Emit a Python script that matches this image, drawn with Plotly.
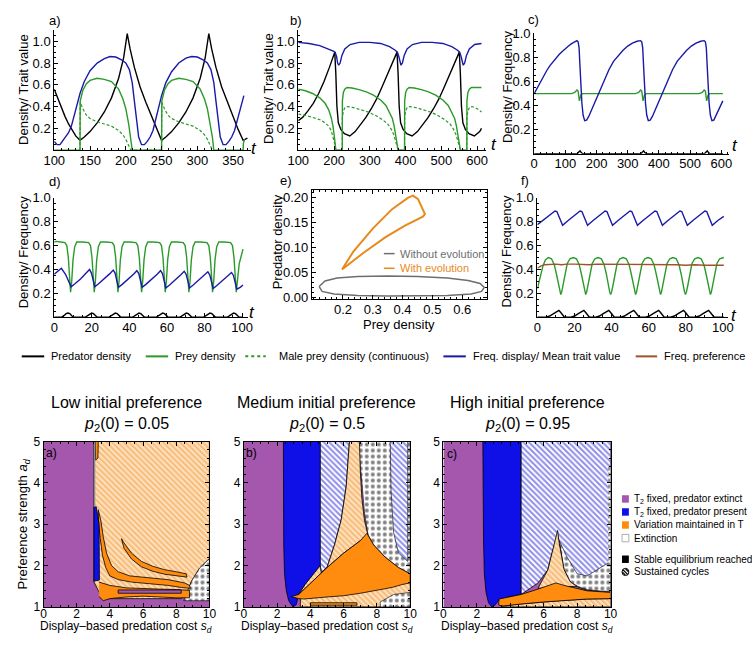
import plotly.graph_objects as go

W, H = 752, 655
FONT = "Liberation Sans, Arial, Helvetica, sans-serif"
BLACK = "#000000"; GREEN = "#2A9A2A"; BLUE = "#1A1AA8"; BROWN = "#A0522D"
ORANGE_E = "#E8891C"; GRAY_E = "#6E6E6E"
PURPLE = "#A457AD"; RBLUE = "#0F0FE8"; RORANGE = "#FF8C0F"; GRAYSTRIP = "#8C8C8C"
HATCH_O = dict(shape="\\", fgcolor="#EE9436", bgcolor="#FFE2BE", size=4, solidity=0.5)
HATCH_B = dict(shape="\\", fgcolor="#1C1CD8", bgcolor="#FFFFFF", size=4, solidity=0.5)
SPECK = dict(shape=".", fgcolor="#000000", bgcolor="#FFFFFF", size=6, solidity=0.35)

# ---------------- panel a ----------------
a_black_t = [100,105,110,115,120,125,130,136,142,150,160,170,180,190,197,202,206,212,220,228,236,243,250,256,264,274,284,294,304,311,316,320,326,334,342,350,357,364,370]
a_black_v = [0.56,0.47,0.39,0.31,0.24,0.18,0.13,0.09,0.12,0.17,0.25,0.35,0.48,0.66,0.85,1.07,0.93,0.76,0.58,0.44,0.31,0.19,0.09,0.12,0.17,0.25,0.35,0.48,0.66,0.85,1.07,0.93,0.76,0.58,0.44,0.31,0.19,0.09,0.11]
a_blue_t = [100,104,108,114,120,124,130,136,142,150,160,170,178,186,194,200,205,209,212,215,218,222,226,230,234,238,244,250,256,264,274,284,292,300,308,314,319,323,326,329,332,336,340,344,348,352,358,365]
a_blue_v = [0.08,0.05,0.05,0.1,0.16,0.22,0.37,0.52,0.63,0.73,0.8,0.84,0.86,0.855,0.83,0.8,0.74,0.62,0.45,0.28,0.12,0.05,0.05,0.08,0.12,0.18,0.33,0.5,0.62,0.72,0.8,0.845,0.86,0.855,0.83,0.8,0.74,0.62,0.45,0.28,0.12,0.05,0.05,0.08,0.12,0.18,0.33,0.5]
a_green_t = [100,136,136.3,140,145,150,160,170,180,190,196,200,204,207,209,250,250.3,254,259,264,274,284,294,304,310,314,318,321,323,364,364.3,366]
a_green_v = [0,0,0.45,0.55,0.61,0.64,0.66,0.65,0.63,0.56,0.47,0.38,0.24,0.12,0,0,0.45,0.55,0.61,0.64,0.66,0.65,0.63,0.56,0.47,0.38,0.24,0.12,0,0,0.06,0.1]
a_male_t = [136,136.3,140,145,150,160,170,180,190,196,200,204,207,250,250.3,254,259,264,274,284,294,304,310,314,318,321]
a_male_v = [0,0.44,0.38,0.32,0.29,0.26,0.24,0.22,0.18,0.14,0.1,0.05,0,0,0.44,0.38,0.32,0.29,0.26,0.24,0.22,0.18,0.14,0.1,0.05,0]

# ---------------- panel b ----------------
b_black_t = [100,112,127,142,157,172,187,202,205,208,212,219,229,244,259,274,289,304,319,334,349,364,376,379,382,386,393,403,418,433,448,463,478,493,508,523,538,550,553,556,560,567,577,592,607,612]
b_black_v = [0.27,0.3,0.36,0.43,0.52,0.63,0.76,0.9,0.7,0.4,0.25,0.19,0.15,0.13,0.17,0.23,0.3,0.38,0.47,0.58,0.7,0.81,0.9,0.7,0.4,0.25,0.19,0.15,0.13,0.17,0.23,0.3,0.38,0.47,0.58,0.7,0.81,0.9,0.7,0.4,0.25,0.19,0.15,0.13,0.17,0.2]
b_green_t = [100,120,140,160,175,185,192,197,201,204,205,
             223,223.3,226,230,236,250,270,290,310,330,345,355,363,368,372,375,378,379,
             397,397.3,400,404,410,424,444,464,484,504,519,529,537,542,546,549,552,553,
             571,571.3,574,578,584,600,612]
b_green_v = [0.56,0.545,0.52,0.48,0.43,0.37,0.3,0.22,0.12,0.04,0,
             0,0.45,0.53,0.56,0.575,0.57,0.555,0.535,0.505,0.46,0.41,0.35,0.29,0.22,0.14,0.07,0.02,0,
             0,0.45,0.53,0.56,0.575,0.57,0.555,0.535,0.505,0.46,0.41,0.35,0.29,0.22,0.14,0.07,0.02,0,
             0,0.45,0.53,0.56,0.575,0.575,0.575]
b_male_t = [100,120,140,160,175,185,192,197,201,204,205,
            223,223.3,226,231,238,255,275,295,315,335,350,360,367,372,375,378,379,
            397,397.3,400,405,412,429,449,469,489,509,524,534,541,546,549,552,553,
            571,571.3,574,579,586,600,612]
b_male_v = [0.33,0.32,0.3,0.28,0.25,0.22,0.18,0.13,0.07,0.02,0,
            0,0.3,0.36,0.395,0.4,0.39,0.37,0.35,0.32,0.28,0.24,0.19,0.14,0.09,0.05,0.02,0,
            0,0.3,0.36,0.395,0.4,0.39,0.37,0.35,0.32,0.28,0.24,0.19,0.14,0.09,0.05,0.02,0,
            0,0.3,0.36,0.395,0.4,0.38,0.35]
b_blue_t = [100,130,160,185,198,203,207,210,213,217,222,230,245,270,300,330,355,370,377,381,384,387,391,396,404,419,444,474,504,529,544,551,555,558,561,565,570,578,593,612]
b_blue_v = [0.99,0.98,0.96,0.93,0.91,0.9,0.86,0.8,0.78,0.8,0.87,0.93,0.97,0.99,0.99,0.98,0.95,0.92,0.9,0.86,0.8,0.78,0.8,0.87,0.93,0.97,0.99,0.99,0.98,0.95,0.92,0.9,0.86,0.8,0.78,0.8,0.87,0.93,0.97,0.98]

# ---------------- panel c ----------------
c_blue_t = [0,10,20,30,40,50,60,70,80,90,100,110,120,130,137,141,144,147,150,153,157,162,168,175,185,195,205,215,225,240,255,270,285,300,315,330,341,345,348,351,354,357,361,366,372,379,389,399,409,419,429,444,459,474,489,504,519,534,545,549,552,555,558,561,565,570,576,583,593,605]
c_blue_v = [0.5,0.55,0.6,0.645,0.69,0.73,0.765,0.795,0.825,0.85,0.875,0.895,0.915,0.93,0.94,0.93,0.88,0.72,0.55,0.42,0.32,0.275,0.28,0.31,0.37,0.43,0.5,0.56,0.62,0.7,0.77,0.82,0.86,0.895,0.92,0.935,0.94,0.93,0.88,0.72,0.55,0.42,0.32,0.275,0.28,0.31,0.37,0.43,0.5,0.56,0.62,0.7,0.77,0.82,0.86,0.895,0.92,0.935,0.94,0.93,0.88,0.72,0.55,0.42,0.32,0.275,0.28,0.32,0.38,0.44]
c_green_t = [0,120,130,137,141,143,145,147,150,155,325,335,341,345,347,349,351,354,359,529,539,545,549,551,553,555,558,563,605]
c_green_v = [0.5,0.5,0.51,0.53,0.52,0.47,0.44,0.46,0.49,0.5,0.5,0.51,0.53,0.52,0.47,0.44,0.46,0.49,0.5,0.5,0.51,0.53,0.52,0.47,0.44,0.46,0.49,0.5,0.5]
c_black_t = [0,138,143,147,151,156,342,347,351,355,360,546,551,555,559,564,605]
c_black_v = [0,0,0.015,0.025,0.01,0,0,0.015,0.025,0.01,0,0,0.015,0.025,0.01,0,0]

# ---------------- panel d ----------------
d_green_t = [0,1,3.5,5.7,6.7,7.5,8.2,8.7,9.3,10,10.9,12,
             15,18.3,19.3,20.1,20.8,21.3,21.9,22.6,23.5,24.6,
             27.6,30.9,31.9,32.7,33.4,33.9,34.5,35.2,36.1,37.2,
             40.2,43.5,44.5,45.3,46,46.5,47.1,47.8,48.7,49.8,
             52.8,56.1,57.1,57.9,58.6,59.1,59.7,60.4,61.3,62.4,
             65.4,68.7,69.7,70.5,71.2,71.7,72.3,73,73.9,75,
             78,81.3,82.3,83.1,83.8,84.3,84.9,85.6,86.5,87.6,
             90.6,93.9,94.9,95.7,96.4,96.9,97.5,98.5,100.5]
d_green_v = [0.63,0.635,0.63,0.625,0.6,0.5,0.33,0.21,0.3,0.48,0.59,0.63,
             0.63,0.625,0.6,0.5,0.33,0.21,0.3,0.48,0.59,0.63,
             0.63,0.625,0.6,0.5,0.33,0.21,0.3,0.48,0.59,0.63,
             0.63,0.625,0.6,0.5,0.33,0.21,0.3,0.48,0.59,0.63,
             0.63,0.625,0.6,0.5,0.33,0.21,0.3,0.48,0.59,0.63,
             0.63,0.625,0.6,0.5,0.33,0.21,0.3,0.48,0.59,0.63,
             0.63,0.625,0.6,0.5,0.33,0.21,0.3,0.48,0.59,0.63,
             0.63,0.625,0.6,0.5,0.33,0.21,0.3,0.45,0.57]
d_blue_t = [0,2,3.8,6,7.8,9,11,14,17,18.8,19.8,20.8,21.6,23.6,26.6,29.6,31.4,32.4,33.4,34.2,36.2,39.2,42.2,44,45,46,46.8,48.8,51.8,54.8,56.6,57.6,58.6,59.4,61.4,64.4,67.4,69.2,70.2,71.2,72,74,77,80,81.8,82.8,83.8,84.6,86.6,89.6,92.6,94.4,95.4,96.4,97.2,99,100.5]
d_blue_v = [0.36,0.39,0.41,0.36,0.3,0.255,0.28,0.32,0.37,0.40,0.37,0.3,0.255,0.28,0.32,0.365,0.395,0.37,0.3,0.25,0.275,0.315,0.36,0.39,0.365,0.3,0.25,0.275,0.315,0.36,0.39,0.365,0.3,0.245,0.27,0.31,0.355,0.385,0.36,0.3,0.245,0.27,0.31,0.35,0.38,0.355,0.3,0.24,0.265,0.305,0.345,0.375,0.35,0.29,0.235,0.25,0.27]
d_black_t = [0,3.8,5.3,6.3,7.3,8.3,9.3,10.3,16.4,17.9,18.9,19.9,20.9,21.9,22.9,29,30.5,31.5,32.5,33.5,34.5,35.5,41.6,43.1,44.1,45.1,46.1,47.1,48.1,54.2,55.7,56.7,57.7,58.7,59.7,60.7,66.8,68.3,69.3,70.3,71.3,72.3,73.3,79.4,80.9,81.9,82.9,83.9,84.9,85.9,92,93.5,94.5,95.5,96.5,97.5,98.5,100.5]
d_black_v = [0,0,0.015,0.03,0.035,0.03,0.012,0,0,0.015,0.03,0.035,0.03,0.012,0,0,0.015,0.03,0.035,0.03,0.012,0,0,0.015,0.03,0.035,0.03,0.012,0,0,0.015,0.03,0.035,0.03,0.012,0,0,0.015,0.03,0.035,0.03,0.012,0,0,0.015,0.03,0.035,0.03,0.012,0,0,0.015,0.03,0.035,0.03,0.012,0,0]

# ---------------- panel e ----------------
e_noevo_x = [0.12,0.14,0.18,0.25,0.35,0.45,0.55,0.62,0.66,0.674,0.665,0.63,0.55,0.45,0.35,0.25,0.17,0.13,0.12]
e_noevo_y = [0.022,0.033,0.039,0.042,0.043,0.042,0.039,0.034,0.028,0.02,0.012,0.007,0.004,0.003,0.003,0.004,0.007,0.012,0.022]
e_evo_x = [0.197,0.235,0.3,0.365,0.419,0.435,0.452,0.463,0.475,0.468,0.408,0.343,0.267,0.197]
e_evo_y = [0.056,0.092,0.138,0.177,0.2,0.204,0.197,0.184,0.167,0.162,0.144,0.121,0.0885,0.056]

# ---------------- panel f ----------------
f_green_t = [0,1,2,3,4.3,5.9,
             7.6,9.1,10.3,11.3,12.1,12.6,13.1,13.9,14.9,16.1,17.6,19.3,
             21.05,22.55,23.75,24.75,25.55,26.05,26.55,27.35,28.35,29.55,31.05,32.75,
             34.5,36,37.2,38.2,39,39.5,40,40.8,41.8,43,44.5,46.2,
             47.95,49.45,50.65,51.65,52.45,52.95,53.45,54.25,55.25,56.45,57.95,59.65,
             61.4,62.9,64.1,65.1,65.9,66.4,66.9,67.7,68.7,69.9,71.4,73.1,
             74.85,76.35,77.55,78.55,79.35,79.85,80.35,81.15,82.15,83.35,84.85,86.55,
             88.3,89.8,91,92,92.8,93.3,93.8,94.6,95.6,96.8,98.3,100.5]
f_green_v = [0.24,0.3,0.37,0.43,0.48,0.5,
             0.49,0.44,0.36,0.27,0.21,0.19,0.21,0.27,0.37,0.45,0.49,0.5,
             0.49,0.44,0.36,0.27,0.21,0.19,0.21,0.27,0.37,0.45,0.49,0.5,
             0.49,0.44,0.36,0.27,0.21,0.19,0.21,0.27,0.37,0.45,0.49,0.5,
             0.49,0.44,0.36,0.27,0.21,0.19,0.21,0.27,0.37,0.45,0.49,0.5,
             0.49,0.44,0.36,0.27,0.21,0.19,0.21,0.27,0.37,0.45,0.49,0.5,
             0.49,0.44,0.36,0.27,0.21,0.19,0.21,0.27,0.37,0.45,0.49,0.5,
             0.49,0.44,0.36,0.27,0.21,0.19,0.21,0.27,0.37,0.45,0.49,0.5]
f_blue_t = [0,3,6,9.5,10.5,11.8,13,13.6,16.6,19.6,23,24,25.3,26.5,27.05,30.05,33.05,36.5,37.5,38.8,40,40.5,43.5,46.5,49.9,50.9,52.2,53.4,53.95,56.95,59.95,63.4,64.4,65.7,66.9,67.4,70.4,73.4,76.85,77.85,79.15,80.35,80.85,83.85,86.85,90.3,91.3,92.6,93.8,94.3,97.3,100.5]
f_blue_v = [0.775,0.81,0.85,0.89,0.885,0.84,0.79,0.77,0.81,0.85,0.89,0.885,0.84,0.79,0.77,0.81,0.85,0.89,0.885,0.84,0.79,0.77,0.81,0.85,0.89,0.885,0.84,0.79,0.77,0.81,0.85,0.89,0.885,0.84,0.79,0.77,0.81,0.85,0.89,0.885,0.84,0.79,0.77,0.81,0.85,0.89,0.885,0.84,0.79,0.77,0.81,0.845]
f_black_t = [0,4.6,6.6,8.6,10.6,11.6,12.6,13.6,14.6,18.05,20.05,22.05,24.05,25.05,26.05,27.05,28.05,31.5,33.5,35.5,37.5,38.5,39.5,40.5,41.5,44.95,46.95,48.95,50.95,51.95,52.95,53.95,54.95,58.4,60.4,62.4,64.4,65.4,66.4,67.4,68.4,71.85,73.85,75.85,77.85,78.85,79.85,80.85,81.85,85.3,87.3,89.3,91.3,92.3,93.3,94.3,95.3,100.5]
f_black_v = [0,0,0.01,0.03,0.05,0.058,0.04,0.015,0,0,0.01,0.03,0.05,0.058,0.04,0.015,0,0,0.01,0.03,0.05,0.058,0.04,0.015,0,0,0.01,0.03,0.05,0.058,0.04,0.015,0,0,0.01,0.03,0.05,0.058,0.04,0.015,0,0,0.01,0.03,0.05,0.058,0.04,0.015,0,0,0.01,0.03,0.05,0.058,0.04,0.015,0,0]
f_pref_t = [0,2,4,7,10,13,16,20,24,28,32,36,40,45,50,55,60,65,70,75,80,85,90,95,100.5]
f_pref_v = [0.41,0.43,0.44,0.445,0.445,0.44,0.445,0.445,0.44,0.44,0.445,0.445,0.44,0.44,0.44,0.44,0.44,0.44,0.44,0.44,0.435,0.44,0.435,0.435,0.435]

# ---------------- region maps (s_d, a_d) ----------------
full_x = [0, 10, 10, 0, 0]
full_y = [1, 1, 5, 5, 1]
# low initial preference
A_hatch_x = [3.04,10,10,9.41,8.92,8.6,8.3,3.6,3.3,3.04,3.04]
A_hatch_y = [5,5,2.17,1.94,1.62,1.3,1.2,1.2,1.4,1.6,5]
A_speck_x = [10,9.41,8.92,8.6,8.45,10,10]
A_speck_y = [2.17,1.94,1.62,1.3,1.15,1.15,2.17]
A_or1_x = [3.3,3.45,3.6,3.8,4.1,4.5,5.2,6.5,7.5,8.5,8.8,8.85,8.3,7.5,6.5,5.3,4.5,4.0,3.75,3.55,3.42,3.32,3.3]
A_or1_y = [3.35,3.1,2.7,2.3,2.0,1.85,1.75,1.7,1.66,1.58,1.52,1.45,1.47,1.52,1.56,1.6,1.66,1.75,1.95,2.25,2.65,3.0,3.35]
A_or2_x = [3.35,4.0,5.0,6.0,7.0,8.0,8.8,8.8,8.0,7.0,6.0,5.0,4.0,3.6,3.35]
A_or2_y = [1.6,1.52,1.46,1.44,1.43,1.42,1.4,1.22,1.22,1.24,1.26,1.24,1.2,1.15,1.25]
A_pbar_x = [4.5,8.3,8.3,4.5,4.5]
A_pbar_y = [1.41,1.41,1.33,1.33,1.41]
A_or3_x = [4.7,4.85,5.3,5.9,6.6,7.3,8.0,8.6,8.65,8.0,7.3,6.6,5.9,5.3,4.85,4.7]
A_or3_y = [2.65,2.55,2.3,2.1,1.98,1.9,1.85,1.8,1.72,1.75,1.79,1.86,1.97,2.16,2.42,2.65]
A_or4_x = [3.12,3.3,3.28,3.14,3.12]
A_or4_y = [5,5,4.6,4.55,5]
A_blue_x = [3.04,3.18,3.35,3.37,3.04,3.04]
A_blue_y = [3.42,3.42,3.0,1.65,1.62,3.42]
A_gray_x = [3.04,3.12,3.12,3.04,3.04]
A_gray_y = [5,5,3.42,3.42,5]
# medium initial preference
B_speck_x = [6.9,10,10,9.3,8.5,7.8,7.45,7.25,7.1,6.95,6.9]
B_speck_y = [5,5,1.8,1.95,2.2,2.5,2.75,3.3,4.0,4.6,5]
B_bh2_x = [8.8,9.85,9.85,9.3,9.0,8.85,8.8]
B_bh2_y = [5,5,2.1,2.3,2.8,3.8,5]
B_blue_x = [2.38,4.6,4.6,4.2,3.7,3.3,3.15,2.95,2.7,2.55,2.45,2.4,2.38]
B_blue_y = [5,5,2.0,1.8,1.55,1.3,1.05,1.0,1.15,1.4,1.8,2.5,5]
B_bh_x = [4.6,6.35,6.15,5.85,5.45,5.0,4.65,4.6,4.6]
B_bh_y = [5,5,3.9,3.1,2.5,1.95,1.82,2.0,5]
B_tan_x = [6.35,6.95,7.0,7.1,7.25,7.45,7.0,6.0,5.0,4.2,3.6,3.3,3.7,4.2,4.6,4.65,5.0,5.45,5.85,6.15,6.35]
B_tan_y = [5,5,4.3,3.6,3.1,2.75,2.6,2.3,1.95,1.65,1.42,1.3,1.55,1.8,2.0,1.82,1.95,2.5,3.1,3.9,5]
B_tanlow_x = [3.4,10,10,3.4,3.4]
B_tanlow_y = [1.25,1.6,1.0,1.0,1.25]
B_or_x = [7.4,7.8,8.5,9.3,10,10,9.5,9.0,8.5,8.0,7.5,7.0,6.5,6.0,5.0,4.0,3.6,3.3,2.85,3.3,4.2,5.0,6.0,7.0,7.4]
B_or_y = [2.78,2.5,2.2,1.95,1.8,1.58,1.54,1.48,1.44,1.4,1.36,1.33,1.3,1.27,1.24,1.2,1.19,1.2,1.25,1.3,1.65,1.95,2.3,2.6,2.78]
B_orlow_x = [4.0,6.8,6.8,4.0,4.0]
B_orlow_y = [1.1,1.1,1.04,1.04,1.1]
B_specklow_x = [8.2,10,10,9.0,8.2,8.2]
B_specklow_y = [1.0,1.0,1.35,1.3,1.12,1.0]
# high initial preference
C_blue_x = [2.36,4.65,4.65,4.0,3.35,3.1,2.9,2.7,2.55,2.45,2.4,2.36]
C_blue_y = [5,5,1.3,1.25,1.18,1.05,1.0,1.1,1.35,1.8,2.6,5]
C_bh_x = [4.65,10,10,9.5,8.6,7.6,7.22,6.93,6.83,6.54,6.25,5.66,4.65,4.65]
C_bh_y = [5,5,1.38,1.38,1.4,1.55,1.9,2.53,2.75,2.37,1.9,1.58,1.3,5]
C_speck_x = [6.93,7.4,8.0,8.6,10,10,9.5,9.0,8.6,8.0,7.6,7.22,6.93]
C_speck_y = [2.6,2.2,1.8,1.75,2.1,1.38,1.38,1.4,1.42,1.5,1.6,1.9,2.6]
C_speck2_x = [9.86,10,10,9.86,9.86]
C_speck2_y = [4.4,4.4,2.0,2.0,4.4]
C_tan_x = [6.83,6.93,7.22,7.6,8.0,5.66,6.25,6.54,6.83]
C_tan_y = [2.85,2.53,1.9,1.6,1.5,1.45,1.9,2.37,2.85]
C_tanlow_x = [3.5,10,10,8.58,7.0,6.0,4.65,3.5,3.5]
C_tanlow_y = [1.0,1.0,1.2,1.19,1.15,1.12,1.07,1.02,1.0]
C_or_x = [3.33,4.65,5.66,6.73,7.22,8.58,10,10,8.58,7.0,6.0,4.65,3.5,3.3,3.33]
C_or_y = [1.19,1.3,1.43,1.58,1.52,1.39,1.35,1.2,1.19,1.15,1.12,1.07,1.02,1.05,1.19]

panel_titles = ["Low initial preference", "Medium initial preference", "High initial preference"]
panel_p0 = ["0.05", "0.5", "0.95"]
region_legend = ["T<sub>2</sub> fixed, predator extinct", "T<sub>2</sub> fixed, predator present",
                 "Variation maintained in T", "Extinction", "Stable equilibrium reached", "Sustained cycles"]
line_legend = ["Predator density", "Prey density", "Male prey density (continuous)",
               "Freq. display/ Mean trait value", "Freq. preference"]

fig = go.Figure()


def names(i):
    s = "" if i == 1 else str(i)
    return "x" + s, "y" + s, "xaxis" + s, "yaxis" + s


def curve(i, x, y, color, width=1.4, dash=None):
    xr, yr, _, _ = names(i)
    fig.add_trace(go.Scatter(x=x, y=y, mode="lines", xaxis=xr, yaxis=yr, hoverinfo="skip",
                             line=dict(color=color, width=width, dash=dash)))


def region(i, x, y, color=None, pattern=None, lw=0.8, lcolor="black"):
    xr, yr, _, _ = names(i)
    kw = dict(x=x, y=y, mode="lines", fill="toself", xaxis=xr, yaxis=yr, hoverinfo="skip",
              line=dict(color=lcolor, width=lw))
    if pattern is not None:
        kw["fillcolor"] = pattern["bgcolor"]
        kw["fillpattern"] = pattern
    else:
        kw["fillcolor"] = color
    fig.add_trace(go.Scatter(**kw))


# top row curves
curve(1, a_black_t, a_black_v, BLACK)
curve(1, a_blue_t, a_blue_v, BLUE)
curve(1, a_male_t, a_male_v, GREEN, 1.2, "3px,2px")
curve(1, a_green_t, a_green_v, GREEN)

curve(2, b_black_t, b_black_v, BLACK)
curve(2, b_blue_t, b_blue_v, BLUE)
curve(2, b_male_t, b_male_v, GREEN, 1.2, "3px,2px")
curve(2, b_green_t, b_green_v, GREEN)

curve(3, c_black_t, c_black_v, BLACK)
curve(3, c_green_t, c_green_v, GREEN)
curve(3, c_blue_t, c_blue_v, BLUE)

curve(4, d_black_t, d_black_v, BLACK)
curve(4, d_green_t, d_green_v, GREEN)
curve(4, d_blue_t, d_blue_v, BLUE)

curve(5, e_noevo_x, e_noevo_y, GRAY_E, 1.5)
curve(5, e_evo_x, e_evo_y, ORANGE_E, 2)

curve(6, f_black_t, f_black_v, BLACK)
curve(6, f_blue_t, f_blue_v, BLUE)
curve(6, f_green_t, f_green_v, GREEN)
curve(6, f_pref_t, f_pref_v, BROWN)

# region maps
for i in (7, 8, 9):
    region(i, full_x, full_y, PURPLE, lw=0, lcolor="rgba(0,0,0,0)")

region(7, A_hatch_x, A_hatch_y, pattern=HATCH_O)
region(7, A_speck_x, A_speck_y, pattern=SPECK, lw=0.6)
region(7, A_or2_x, A_or2_y, RORANGE)
region(7, A_pbar_x, A_pbar_y, PURPLE)
region(7, A_or1_x, A_or1_y, RORANGE)
region(7, A_or3_x, A_or3_y, RORANGE)
region(7, A_or4_x, A_or4_y, RORANGE)
region(7, A_blue_x, A_blue_y, RBLUE)
region(7, A_gray_x, A_gray_y, GRAYSTRIP, lw=0)

region(8, B_speck_x, B_speck_y, pattern=SPECK, lw=0.6)
region(8, B_bh2_x, B_bh2_y, pattern=HATCH_B, lw=0.6)
region(8, B_blue_x, B_blue_y, RBLUE)
region(8, B_bh_x, B_bh_y, pattern=HATCH_B)
region(8, B_tan_x, B_tan_y, pattern=HATCH_O)
region(8, B_tanlow_x, B_tanlow_y, pattern=HATCH_O)
region(8, B_or_x, B_or_y, RORANGE)
region(8, B_orlow_x, B_orlow_y, RORANGE)
region(8, B_specklow_x, B_specklow_y, pattern=SPECK, lw=0.6)

region(9, C_blue_x, C_blue_y, RBLUE)
region(9, C_bh_x, C_bh_y, pattern=HATCH_B)
region(9, C_speck_x, C_speck_y, pattern=SPECK, lw=0.6)
region(9, C_speck2_x, C_speck2_y, pattern=SPECK, lw=0)
region(9, C_tan_x, C_tan_y, pattern=HATCH_O)
region(9, C_tanlow_x, C_tanlow_y, pattern=HATCH_O)
region(9, C_or_x, C_or_y, RORANGE)

# ---------------- axes ----------------
TF = dict(family=FONT, size=13, color="black")
TFB = dict(family=FONT, size=12, color="black")


def dom_x(l, r):
    return [l / W, r / W]


def dom_y(t, b):
    return [1 - b / H, 1 - t / H]


def set_axes(i, dx, dy, xr, yr, xt, yt, xmin, ymin, frame=False, xtt=None, ytt=None, x0=0, y0=0,
             tf=TF, standoff=-2):
    xref, yref, xa, ya = names(i)
    common = dict(showline=True, linecolor="black", linewidth=1, ticks="inside", ticklen=4,
                  tickwidth=1, tickcolor="black", showgrid=False, zeroline=False, tickfont=tf,
                  mirror="ticks" if frame else False, fixedrange=True, tickmode="array")
    xd = dict(domain=dx, range=xr, anchor=yref, tickvals=xt, ticklabelstandoff=standoff,
              minor=dict(ticks="inside", ticklen=2, dtick=xmin, tick0=x0, tickcolor="black", showgrid=False),
              **common)
    if xtt is not None:
        xd["ticktext"] = xtt
    yd = dict(domain=dy, range=yr, anchor=xref, tickvals=yt,
              minor=dict(ticks="inside", ticklen=2, dtick=ymin, tick0=y0, tickcolor="black", showgrid=False),
              **common)
    if ytt is not None:
        yd["ticktext"] = ytt
    fig.update_layout(**{xa: xd, ya: yd})


yt_top = [0.2, 0.4, 0.6, 0.8, 1.0]
ytt_top = ["0.2", "0.4", "0.6", "0.8", "1.0"]
set_axes(1, dom_x(44.3, 245.9), dom_y(23.9, 146.2), [100, 375], [0, 1.1],
         [100, 150, 200, 250, 300, 350], yt_top, 10, 0.05, ytt=ytt_top, x0=100)
set_axes(2, dom_x(294.3, 486.8), dom_y(23.9, 146.2), [100, 625], [0, 1.1],
         [100, 200, 300, 400, 500, 600], yt_top, 20, 0.05, ytt=ytt_top, x0=100)
set_axes(3, dom_x(536, 735.7), dom_y(27, 150), [0, 625], [0, 1.0],
         [0, 100, 200, 300, 400, 500, 600], yt_top, 20, 0.05, ytt=ytt_top)
set_axes(4, dom_x(44.3, 242.5), dom_y(195, 317), [0, 103], [0, 1.0],
         [0, 20, 40, 60, 80, 100], yt_top, 5, 0.05, ytt=ytt_top)
set_axes(5, dom_x(308.3, 487.3), dom_y(186.7, 298.3), [0.096, 0.682], [-0.003, 0.216],
         [0.2, 0.3, 0.4, 0.5, 0.6], [0, 0.05, 0.1, 0.15, 0.2], 0.02, 0.01, frame=True,
         xtt=["0.2", "0.3", "0.4", "0.5", "0.6"], ytt=["0.00", "0.05", "0.10", "0.15", "0.20"])
set_axes(6, dom_x(539.3, 735), dom_y(195, 317), [0, 103], [0, 1.0],
         [0, 20, 40, 60, 80, 100], yt_top, 5, 0.05, ytt=ytt_top)
for i, (l, r) in zip((7, 8, 9), ((33.3, 203.3), (238.5, 409), (443, 614.3))):
    set_axes(i, dom_x(l, r), dom_y(444, 613), [0, 10], [1, 5],
             [0, 2, 4, 6, 8, 10], [1, 2, 3, 4, 5], 0.5, 0.2, frame=True, y0=1, tf=TFB, standoff=-4)

# ---------------- annotations ----------------
ann = []


def text(px, py, s, size=13, angle=0, xanchor="center", color="black"):
    ann.append(dict(x=px / W, y=1 - py / H, xref="paper", yref="paper", text=s, showarrow=False,
                    textangle=angle, xanchor=xanchor, yanchor="middle",
                    font=dict(family=FONT, size=size, color=color)))


for (px, py), s in zip([(13, 84), (264, 83), (508, 82), (13, 251), (508, 250)],
                       ["Density/ Trait value", "Density/ Trait value", "Density/ Frequency",
                        "Density/ Frequency", "Density/ Frequency"]):
    text(px, py, s, 13, -90)
text(273, 240, "Predator density", 13, -90)
text(398, 324, "Prey density", 13)
for px, py in [(249, 145), (495, 141), (742, 142), (247, 312), (741, 315)]:
    text(px, py, "<i>t</i>", 17)
for (px, py), s in zip([(45, 14), (292, 14), (535, 13), (45, 178), (282, 177), (527, 177)],
                       ["a)", "b)", "c)", "d)", "e)", "f)"]):
    text(px, py, s, 13)
# panel e inline legend
text(396, 252, "Without evolution", 11, xanchor="left", color=GRAY_E)
text(396, 267, "With evolution", 11, xanchor="left", color=ORANGE_E)

# top legend row
leg_x = [39, 166, 273, 471, 667]
for x0, s in zip(leg_x, line_legend):
    text(x0, 357, s, 11, xanchor="left")

# bottom titles etc.
centers = [118.3, 323.7, 528.7]
for c, t, p in zip(centers, panel_titles, panel_p0):
    text(c, 404, t, 16)
    text(c, 427, "<i>p</i><sub>2</sub>(0) = " + p, 16)
    text(c, 634, "Display\u2013based predation cost <i>s</i><sub><i>d</i></sub>", 12)
text(13, 528, "Preference strength <i>a</i><sub><i>d</i></sub>", 13, -90)
for (px, py), s in zip([(41, 456), (246, 456), (452, 457)], ["a)", "b)", "c)"]):
    text(px, py, s, 12)

leg_rows = [502.7, 516, 529.3, 542.7, 564.3, 577.3]
for py, s in zip(leg_rows, region_legend):
    text(636, py, s, 10, xanchor="left")

shapes = []


def pline(x0, y0, x1, y1, color, width=2, dash=None):
    shapes.append(dict(type="line", xref="paper", yref="paper", x0=x0 / W, x1=x1 / W,
                       y0=1 - y0 / H, y1=1 - y1 / H, line=dict(color=color, width=width, dash=dash)))


def prect(x0, y0, x1, y1, fill, lcolor="rgba(0,0,0,0)", lw=0):
    shapes.append(dict(type="rect", xref="paper", yref="paper", x0=x0 / W, x1=x1 / W,
                       y0=1 - y1 / H, y1=1 - y0 / H, fillcolor=fill, line=dict(color=lcolor, width=lw)))


pline(11, 357, 34, 357, BLACK)
pline(138, 357, 161, 357, GREEN)
pline(240, 357, 261, 357, GREEN, 2, "dot")
pline(443, 357, 466, 357, BLUE)
pline(640, 357, 662, 357, BROWN)
pline(382, 252, 393, 252, GRAY_E, 1.5)
pline(382, 267, 393, 267, ORANGE_E, 1.5)

for py, col in zip(leg_rows[:5], [PURPLE, RBLUE, RORANGE, "#FFFFFF", "#000000"]):
    prect(626, py - 3.8, 633, py + 3.8, col, "#999999" if col == "#FFFFFF" else "rgba(0,0,0,0)", 0.8)
shapes.append(dict(type="circle", xref="paper", yref="paper", x0=626 / W, x1=633 / W,
                   y0=1 - 581 / H, y1=1 - 573.6 / H, fillcolor="white", line=dict(color="black", width=1)))
pline(627, 575, 632, 580, "black", 1.2)
pline(626.5, 577.5, 629.5, 580.5, "black", 1.2)
pline(629.5, 574, 632.5, 577, "black", 1.2)

fig.update_layout(width=W, height=H, margin=dict(l=0, r=0, t=0, b=0), autosize=False,
                  paper_bgcolor="white", plot_bgcolor="white", showlegend=False,
                  font=dict(family=FONT, color="black"), annotations=ann, shapes=shapes)

fig.write_html("out.html")
